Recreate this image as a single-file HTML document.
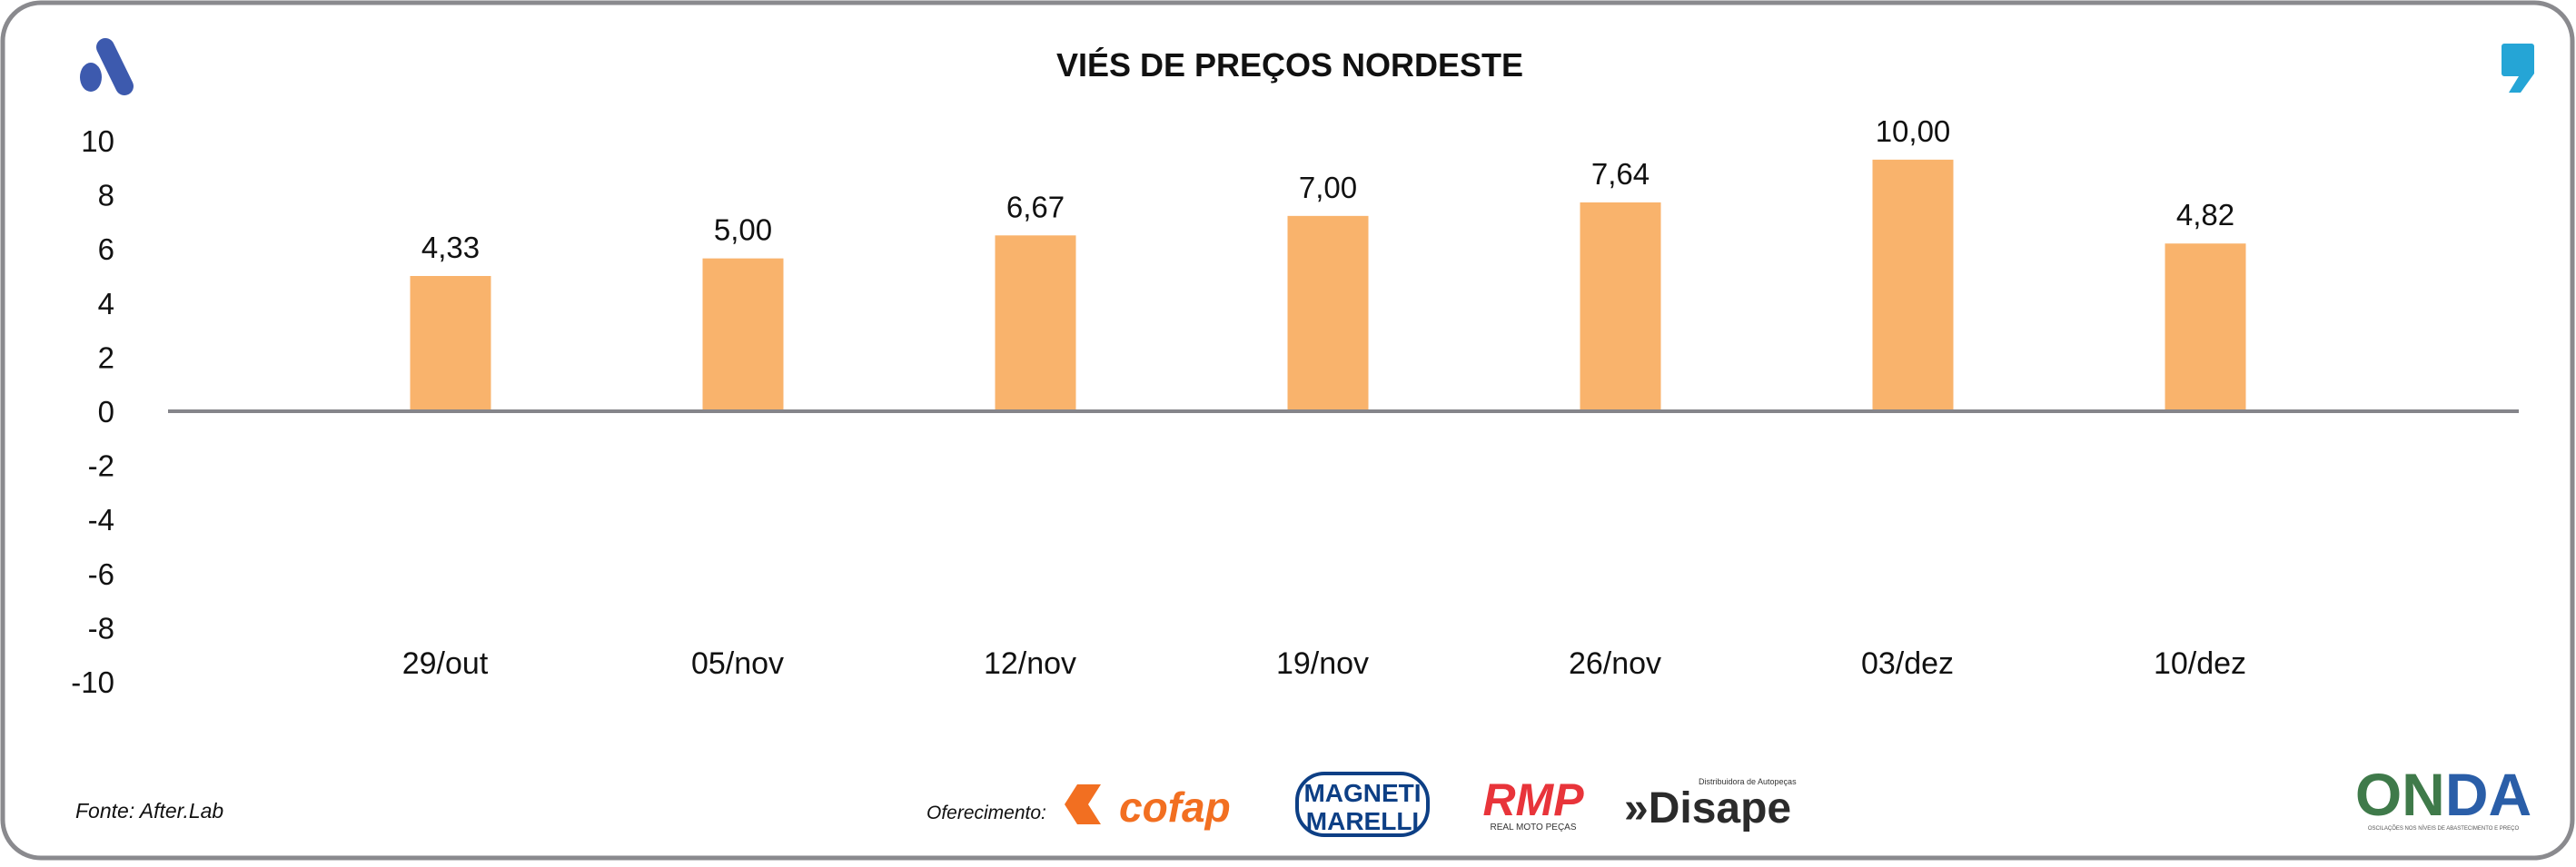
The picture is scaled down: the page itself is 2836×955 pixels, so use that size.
<!DOCTYPE html>
<html><head><meta charset="utf-8"><style>
html,body{margin:0;padding:0;background:#fff;}
body{width:2836px;height:950px;overflow:hidden;font-family:"Liberation Sans",sans-serif;}
</style></head><body>
<svg id="chart" width="2836" height="950" viewBox="0 0 2836 950" xmlns="http://www.w3.org/2000/svg" font-family="Liberation Sans, sans-serif">
<rect x="3" y="3" width="2829" height="942" rx="42" ry="42" fill="#fff" stroke="#8a8a8e" stroke-width="5"/>
<g>
<line x1="116" y1="52" x2="137" y2="95" stroke="#3d5aae" stroke-width="20" stroke-linecap="round"/>
<ellipse cx="100" cy="85" rx="12" ry="16" fill="#3d5aae"/>
</g>
<path d="M2757 48 h30 a3 3 0 0 1 3 3 v30 l-15 21 h-13 l11 -18 h-16 a3 3 0 0 1 -3 -3 v-30 a3 3 0 0 1 3 -3z" fill="#25a5d6"/>
<text x="1420" y="84" text-anchor="middle" font-size="36" font-weight="bold" fill="#111">VIÉS DE PREÇOS NORDESTE</text>
<g id="yaxis"></g>
<g id="bars"></g>
<g id="xaxis"></g>
<text x="83" y="901" font-size="23" font-style="italic" fill="#111">Fonte: After.Lab</text>
<text x="1020" y="902" font-size="21" font-style="italic" fill="#111">Oferecimento:</text>
<g>
<path d="M1172 886 l14 -22 h26 l-14 22 l14 22 h-26z" fill="#f26f21"/>
<text x="1232" y="905" font-size="46" font-weight="bold" font-style="italic" fill="#f26f21">cofap</text>
</g>
<g>
<rect x="1428" y="852" width="144" height="68" rx="30" fill="#fff" stroke="#0d3f85" stroke-width="4"/>
<text x="1500" y="883" text-anchor="middle" font-size="28" font-weight="bold" fill="#0d3f85">MAGNETI</text>
<text x="1500" y="914" text-anchor="middle" font-size="28" font-weight="bold" fill="#0d3f85">MARELLI</text>
</g>
<g>
<text x="1688" y="898" text-anchor="middle" font-size="50" font-weight="bold" font-style="italic" fill="#e8343a">RMP</text>
<text x="1688" y="914" text-anchor="middle" font-size="10" fill="#333">REAL MOTO PEÇAS</text>
</g>
<g>
<text x="1788" y="906" font-size="48" font-weight="bold" fill="#2b2b2b">»Disape</text>
<text x="1870" y="864" font-size="9" fill="#333">Distribuidora de Autopeças</text>
</g>
<g>
<text x="2690" y="898" text-anchor="middle" font-size="66" font-weight="bold" fill="#3f7a4a">ON<tspan fill="#2a5ea8">DA</tspan></text>
<text x="2690" y="914" text-anchor="middle" font-size="6" fill="#555">OSCILAÇÕES NOS NÍVEIS DE ABASTECIMENTO E PREÇO</text>
</g>
</svg>
<script>
const categories=["29/out","05/nov","12/nov","19/nov","26/nov","03/dez","10/dez"];
const barValues=[5.0,5.65,6.5,7.22,7.72,9.3,6.2];
const valueLabels=["4,33","5,00","6,67","7,00","7,64","10,00","4,82"];
const yTicks=[10,8,6,4,2,0,-2,-4,-6,-8,-10];
const NS="http://www.w3.org/2000/svg";
const y0=453, unit=29.8;
function yScale(v){return y0-v*unit;}
function xScale(i){return 1462+(i-(categories.length-1)/2)*322;}
function mk(tag,attrs,parent){const e=document.createElementNS(NS,tag);for(const k in attrs)e.setAttribute(k,attrs[k]);parent.appendChild(e);return e;}
const ya=document.getElementById('yaxis'),ba=document.getElementById('bars'),xa=document.getElementById('xaxis');
yTicks.forEach(t=>{
 const e=mk('text',{x:126,y:yScale(t)+12,'text-anchor':'end','font-size':33,fill:'#111'},ya);
 
 
 e.textContent=String(t);
});
categories.forEach((c,i)=>{
 const cx=xScale(i),v=barValues[i];
 const r=mk('rect',{x:cx-44.5,y:Math.min(yScale(v),y0),width:89,height:Math.abs(yScale(v)-y0),fill:'#f9b36c'},ba);
 
 
 const l=mk('text',{x:cx,y:yScale(Math.max(v,0))-20,'text-anchor':'middle','font-size':33,fill:'#111'},ba);
 
 
 l.textContent=valueLabels[i];
 const xl=mk('text',{x:cx-6,y:742,'text-anchor':'middle','font-size':34,fill:'#111'},xa);
 
 
 xl.textContent=c;
});
const zl=mk('line',{x1:185,x2:2773,y1:y0,y2:y0,stroke:'#85858a','stroke-width':4},xa);


</script>
</body></html>
